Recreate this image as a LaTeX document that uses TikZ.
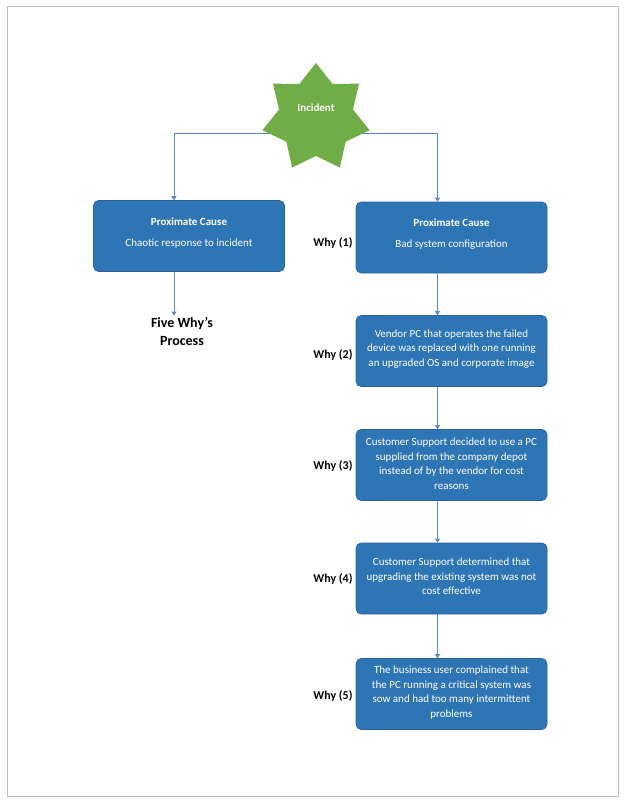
\documentclass[tikz,border=0pt]{standalone}
\usepackage{fontspec}
\setmainfont{Carlito}
\usetikzlibrary{shapes.geometric,arrows.meta,calc,backgrounds}
\definecolor{boxblue}{HTML}{2E75B6}
\definecolor{boxedge}{HTML}{2F5F98}
\definecolor{linkblue}{HTML}{5B8CC8}
\definecolor{stargreen}{HTML}{70AD47}
\definecolor{framegray}{HTML}{C0C0C0}
\begin{document}
\begin{tikzpicture}[x=1pt,y=-1pt,
  box/.style={rectangle, rounded corners=5pt, fill=boxblue, draw=boxedge, line width=0.6pt,
    minimum width=191pt, minimum height=71pt, inner sep=0pt},
  boxtext/.style={text=white, align=center, inner sep=0pt,
    font=\fontsize{11}{14.5}\selectfont},
  why/.style={anchor=east, inner sep=0pt, font=\bfseries\fontsize{12}{14}\selectfont},
  link/.style={draw=linkblue, line width=0.8pt, -{Triangle[length=4pt,width=5pt]}}]
\useasboundingbox (0,0) rectangle (627,803);
\draw[framegray, line width=1pt] (7,6) rectangle (618,796);

\node[star, star points=7, star point ratio=1.45, minimum size=110pt, inner sep=0pt,
  fill=stargreen,
  label={[text=white, font=\bfseries\fontsize{11}{13}\selectfont, yshift=10pt]center:Incident}] (star) at (316,118) {};

\node[box, label={[boxtext, yshift=3pt]center:{\textbf{Proximate Cause}\\[6.5pt]Chaotic response to incident}}] (lbox) at (189,236) {};
\node[box, label={[boxtext, yshift=3pt]center:{\textbf{Proximate Cause}\\[6.5pt]Bad system configuration}}] (b1) at (451.5,237.5) {};
\node[box, label={[boxtext, yshift=2pt]center:{Vendor PC that operates the failed\\device was replaced with one running\\an upgraded OS and corporate image}}] (b2) at (451.5,351) {};
\node[box, label={[boxtext, yshift=1.5pt]center:{Customer Support decided to use a PC\\supplied from the company depot\\instead of by the vendor for cost\\reasons}}] (b3) at (451.5,465) {};
\node[box, label={[boxtext, yshift=2pt]center:{Customer Support determined that\\upgrading the existing system was not\\cost effective}}] (b4) at (451.5,578.5) {};
\node[box, label={[boxtext, yshift=1.5pt]center:{The business user complained that\\the PC running a critical system was\\sow and had too many intermittent\\problems}}] (b5) at (451.5,694) {};

\node[font=\bfseries\fontsize{14}{18}\selectfont, align=center, inner sep=1pt] (five) at (182,331) {Five Why’s\\Process};

\node[why] (w1) at ($(b1.west)+(-3,5.5)$) {Why (1)};
\node[why] (w2) at ($(b2.west)+(-3,4)$) {Why (2)};
\node[why] (w3) at ($(b3.west)+(-3,1)$) {Why (3)};
\node[why] (w4) at ($(b4.west)+(-3,0.5)$) {Why (4)};
\node[why] (w5) at ($(b5.west)+(-3,2)$) {Why (5)};

\begin{scope}[on background layer]
\draw[link] ($(star.center)+(0,15)$) -| ([xshift=-15pt]lbox.north);
\draw[link] ($(star.center)+(0,15)$) -| ([xshift=-14pt]b1.north);
\end{scope}
\draw[link] ([xshift=-15pt]lbox.south) -- ([xshift=-15pt]lbox.south |- five.north);
\draw[link] ([xshift=-14pt]b1.south) -- ([xshift=-14pt]b2.north);
\draw[link] ([xshift=-14pt]b2.south) -- ([xshift=-14pt]b3.north);
\draw[link] ([xshift=-14pt]b3.south) -- ([xshift=-14pt]b4.north);
\draw[link] ([xshift=-14pt]b4.south) -- ([xshift=-14pt]b5.north);
\end{tikzpicture}
\end{document}
